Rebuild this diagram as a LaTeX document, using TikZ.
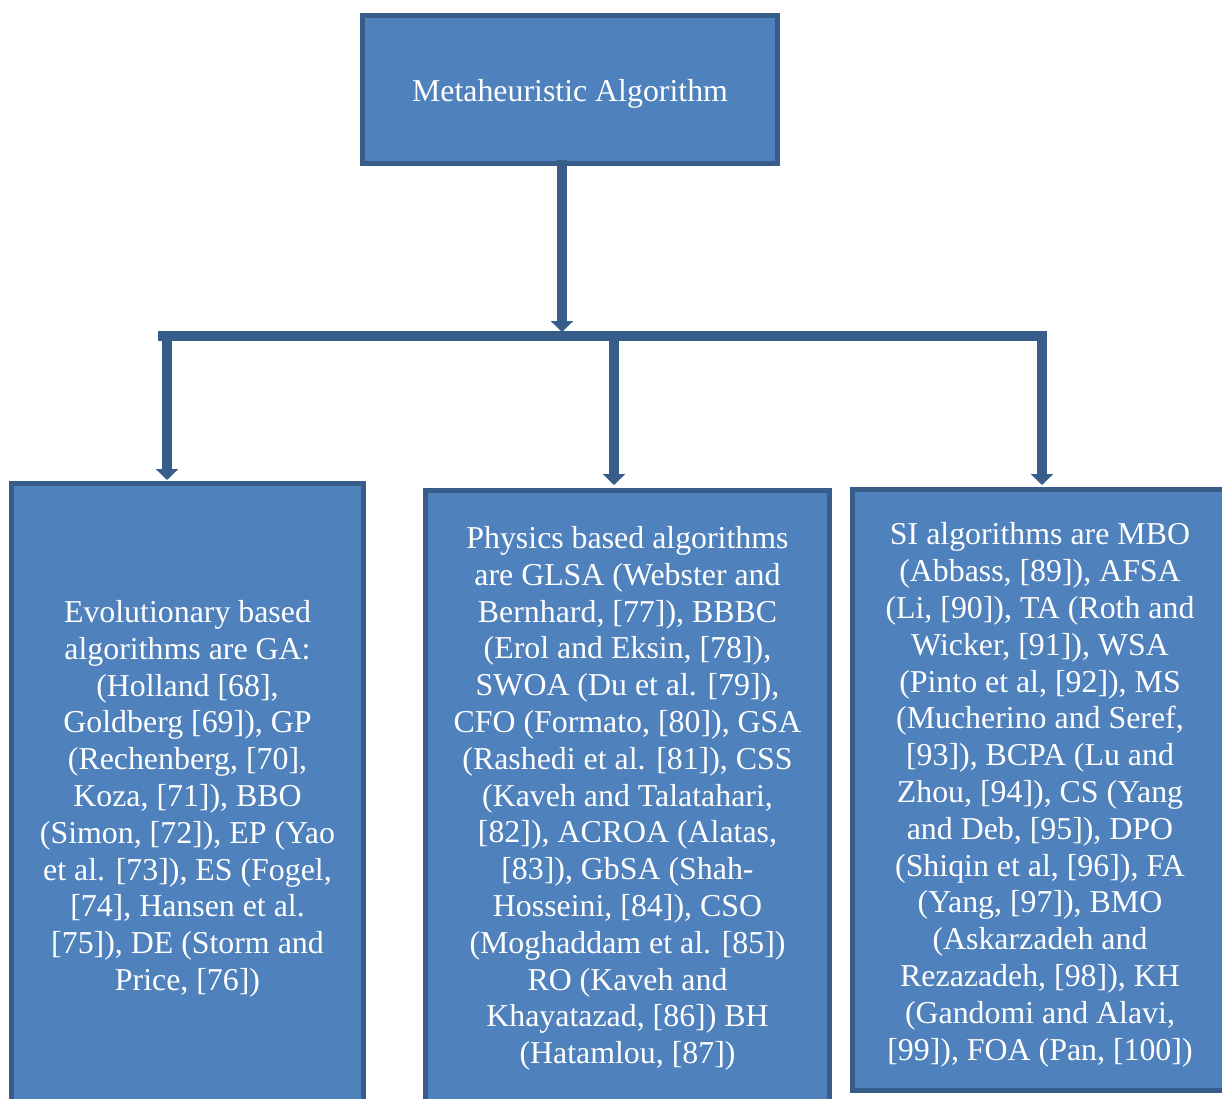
\documentclass[tikz,border=0pt]{standalone}
\usepackage{fontspec}
\setmainfont{Liberation Serif}
\usetikzlibrary{arrows.meta}
\definecolor{boxfill}{HTML}{4F81BD}
\definecolor{boxline}{HTML}{385D8A}
\tikzset{
  box/.style={draw=boxline, fill=boxfill, line width=3.75pt, rectangle,
    text=white, align=center, inner sep=0pt,
    font=\fontsize{23.9pt}{27.6pt}\selectfont},
  conn/.style={draw=boxline, line width=7.5pt},
  arr/.style={conn, -{Triangle[width=16.5pt,length=8.25pt]}},
}
\begin{document}
\begin{tikzpicture}[x=0.75pt, y=-0.75pt]
\useasboundingbox (0,0) rectangle (1222,1099);
\clip (0,0) rectangle (1222,1099);

% boxes
\node[box, minimum width=415*0.75pt, minimum height=148*0.75pt] (top) at (570,89.5)
  {\rule{0pt}{23.8pt}Metaheuristic Algorithm};

\node[box, minimum width=352*0.75pt, minimum height=623*0.75pt] (evo) at (187.5,795)
  {\rule{0pt}{22.3pt}Evolutionary based\\ algorithms are GA:\\ (Holland [68],\\ Goldberg [69]), GP\\
   (Rechenberg, [70],\\ Koza, [71]), BBO\\ (Simon, [72]), EP (Yao\\ et al. [73]), ES (Fogel,\\
   {[74]}, Hansen et al.\\ {[75]}), DE (Storm and\\ Price, [76])};

\node[box, minimum width=404*0.75pt, minimum height=611*0.75pt] (phys) at (627.5,796)
  {\rule{0pt}{20.1pt}Physics based algorithms\\ are GLSA (Webster and\\ Bernhard, [77]), BBBC\\
   (Erol and Eksin, [78]),\\ SWOA (Du et al. [79]),\\ CFO (Formato, [80]), GSA\\
   (Rashedi et al. [81]), CSS\\ (Kaveh and Talatahari,\\ {[82]}), ACROA (Alatas,\\
   {[83]}), GbSA (Shah-\\ Hosseini, [84]), CSO\\ (Moghaddam et al. [85])\\
   RO (Kaveh and\\ Khayatazad, [86]) BH\\ (Hatamlou, [87])};

\node[box, minimum width=375*0.75pt, minimum height=601*0.75pt] (si) at (1040,790)
  {\rule{0pt}{23.8pt}SI algorithms are MBO\\ (Abbass, [89]), AFSA\\ (Li, [90]), TA (Roth and\\
   Wicker, [91]), WSA\\ (Pinto et al, [92]), MS\\ (Mucherino and Seref,\\
   {[93]}), BCPA (Lu and\\ Zhou, [94]), CS (Yang\\ and Deb, [95]), DPO\\
   (Shiqin et al, [96]), FA\\ (Yang, [97]), BMO\\ (Askarzadeh and\\
   Rezazadeh, [98]), KH\\ (Gandomi and Alavi,\\ {[99]}), FOA (Pan, [100])};

% connector points
\coordinate (tStart) at (562,160);
\coordinate (tEnd) at (562,332);
\coordinate (barL) at (158,336);
\coordinate (barR) at (1047,336);
\coordinate (eStart) at (167,331);
\coordinate (eEnd) at (167,480);
\coordinate (pStart) at (614,331);
\coordinate (pEnd) at (614,485);
\coordinate (sStart) at (1042,331);
\coordinate (sEnd) at (1042,485);

% connectors
\draw[arr] (tStart) -- (tEnd);
\draw[conn] (barL) -- (barR);
\draw[arr] (eStart) -- (eEnd);
\draw[arr] (pStart) -- (pEnd);
\draw[arr] (sStart) -- (sEnd);
\end{tikzpicture}
\end{document}
